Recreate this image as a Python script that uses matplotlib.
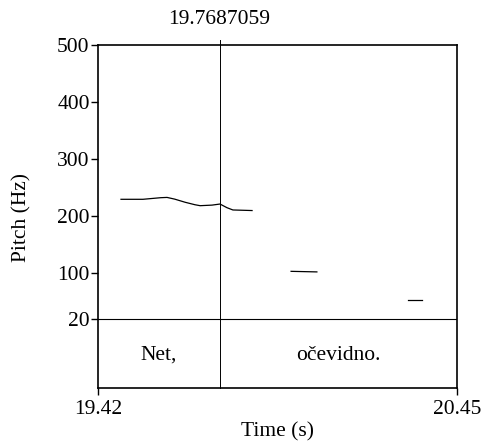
import matplotlib
matplotlib.use("Agg")
import matplotlib.pyplot as plt

plt.rcParams['font.family'] = ['Liberation Serif', 'DejaVu Serif']

# Pitch contour segments (time s, pitch Hz)
seg1_t = [19.486, 19.549, 19.600, 19.618, 19.640, 19.670, 19.698, 19.713, 19.747, 19.770, 19.790, 19.807, 19.862]
seg1_f = [229.7, 229.7, 232.5, 233.0, 230.0, 224.5, 220.2, 218.5, 219.5, 221.4, 215.0, 211.0, 210.0]
seg2_t = [19.974, 20.048]
seg2_f = [103.5, 102.5]
seg3_t = [20.310, 20.350]
seg3_f = [53.0, 53.0]

cursor = 19.7687059
xmin, xmax = 19.42, 20.45
ymin_pitch, ymax_pitch = 20, 500
yticks = [20, 100, 200, 300, 400, 500]
tier_labels = ["Net,", "očevidno."]
tier_bounds = [xmin, cursor, xmax]

FS = 15.5
W, H = 485, 447
fig = plt.figure(figsize=(W / 100, H / 100), dpi=100)
L, R, T, B = 98, 457, 45, 388
ax = fig.add_axes([L / W, 1 - B / H, (R - L) / W, (B - T) / H])

# tier height in data units
pitch_px = 319 - T
scale = (ymax_pitch - ymin_pitch) / pitch_px
tier_h = (B - 319) * scale
ylo = ymin_pitch - tier_h
ax.set_xlim(xmin, xmax)
ax.set_ylim(ylo, ymax_pitch)

for t, f in [(seg1_t, seg1_f), (seg2_t, seg2_f), (seg3_t, seg3_f)]:
    ax.plot(t, f, color='black', lw=0.9)

ax.axhline(ymin_pitch, color='black', lw=0.8)
ax.plot([cursor, cursor], [ylo, ymax_pitch + 5 * scale], color='black', lw=0.7, clip_on=False)

for i, lab in enumerate(tier_labels):
    xc = (tier_bounds[i] + tier_bounds[i + 1]) / 2
    ax.text(xc, ymin_pitch - tier_h / 2 - 2 * scale, lab, ha='center', va='center', fontsize=FS)

ax.text(cursor, ymax_pitch + 26 * scale, "%.7f" % cursor, ha='center', va='center', fontsize=FS)

ax.set_yticks(yticks)
ax.set_yticklabels([str(v) for v in yticks], fontsize=FS)
ax.set_xticks([xmin, xmax])
ax.set_xticklabels(["%.2f" % xmin, "%.2f" % xmax], fontsize=FS)
ax.tick_params(axis='y', direction='out', length=5, width=1, pad=1)
ax.tick_params(axis='x', direction='out', length=5, width=1, pad=4)
for s in ax.spines.values():
    s.set_linewidth(1.2)

fig.text(22 / W, 1 - 217 / H, "Pitch (Hz)", rotation=90, ha='center', va='center', fontsize=FS)
fig.text(277.5 / W, 1 - 432 / H, "Time (s)", ha='center', va='center', fontsize=FS)

fig.savefig("out.png", dpi=100)
